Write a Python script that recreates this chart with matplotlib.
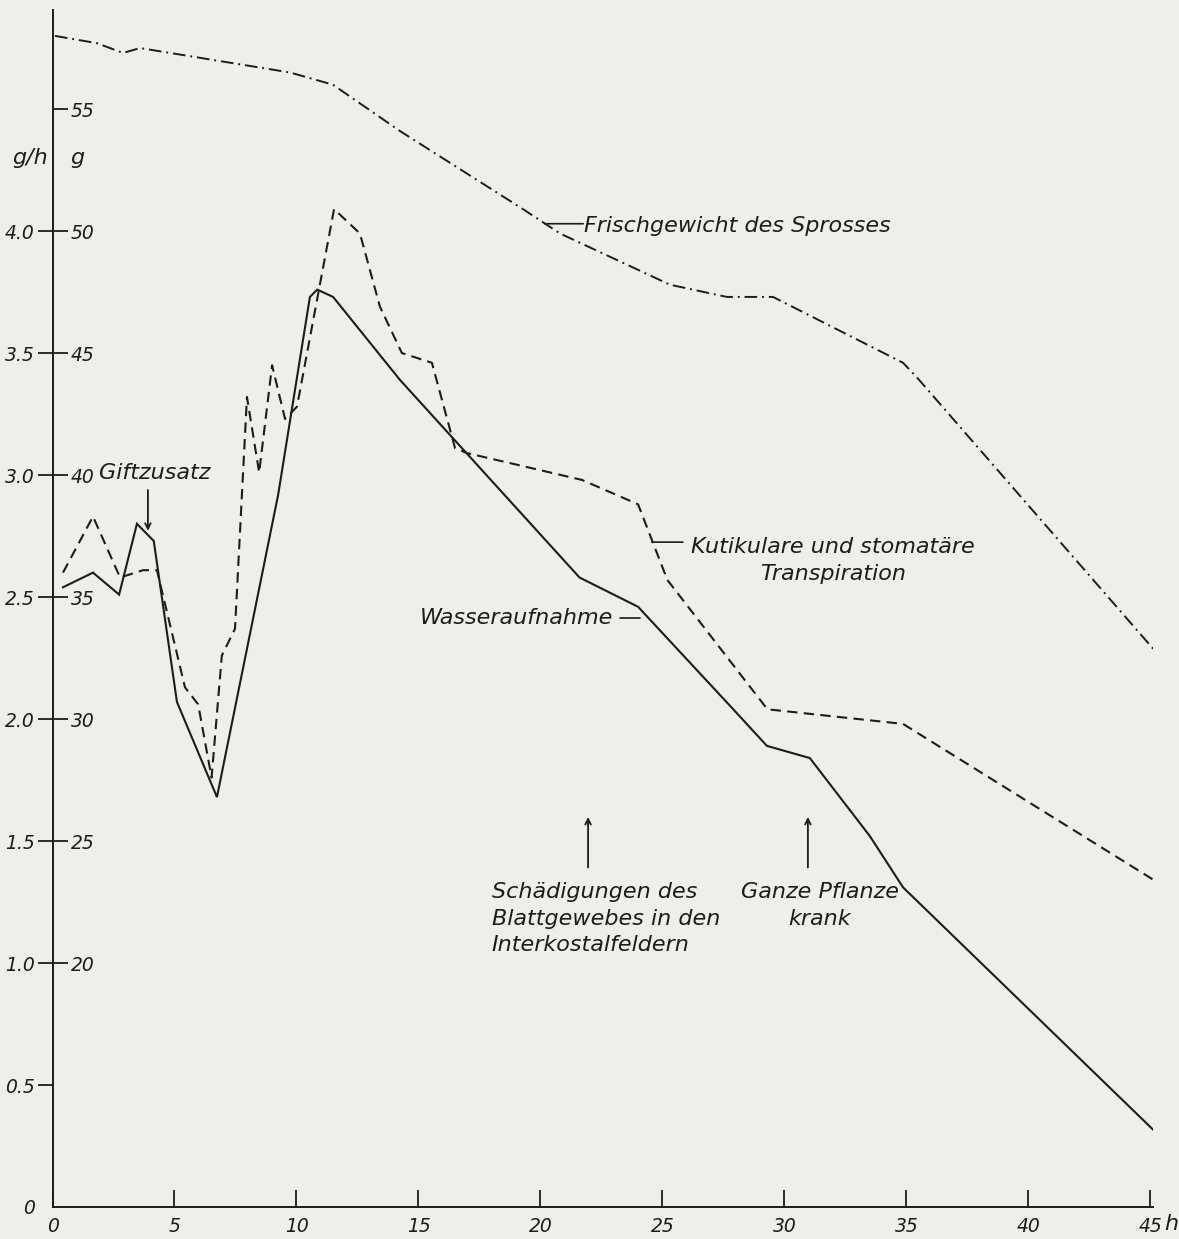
import numpy as np
import matplotlib.pyplot as plt

# Zeit in Stunden und Werte in g/h bzw. g
wasser_t = [0.43, 1.66, 2.73, 3.46, 4.15, 5.1, 6.74, 9.25, 10.55, 10.85, 11.5,
            14.24, 21.6, 24.0, 27.9, 29.28, 31.04, 33.5, 34.86, 45.18]
wasser_gh = [2.54, 2.60, 2.51, 2.80, 2.73, 2.07, 1.68, 2.92, 3.73, 3.76, 3.73,
             3.39, 2.58, 2.46, 2.04, 1.89, 1.84, 1.52, 1.31, 0.31]

transp_t = [0.43, 1.66, 2.77, 3.71, 4.28, 5.43, 5.97, 6.52, 6.94, 7.48, 7.97,
            8.47, 9.0, 9.53, 10.02, 11.54, 12.6, 13.42, 14.32, 15.55, 16.5,
            16.99, 21.7, 24.0, 25.2, 29.3, 34.86, 45.3]
transp_gh = [2.60, 2.83, 2.58, 2.61, 2.61, 2.13, 2.06, 1.76, 2.26, 2.37, 3.32,
             3.01, 3.45, 3.23, 3.28, 4.09, 3.99, 3.69, 3.50, 3.46, 3.11,
             3.09, 2.98, 2.88, 2.57, 2.04, 1.98, 1.33]

frisch_t = [0.10, 1.82, 2.89, 3.59, 9.73, 11.49, 14.24, 19.28, 20.80, 25.31,
            27.64, 29.53, 34.86, 35.43, 45.18]
frisch_g = [58.0, 57.7, 57.3, 57.5, 56.5, 56.0, 54.1, 50.9, 49.9, 47.8,
            47.3, 47.3, 44.6, 44.0, 32.8]

x_ticks = [0, 5, 10, 15, 20, 25, 30, 35, 40, 45]
gh_ticks = [0, 0.5, 1.0, 1.5, 2.0, 2.5, 3.0, 3.5, 4.0]
gh_labels = ['0', '0.5', '1.0', '1.5', '2.0', '2.5', '3.0', '3.5', '4.0']
g_ticks = [20, 25, 30, 35, 40, 45, 50, 55]

ink = '#1c1c1c'
paper = '#eeeeeb'
plt.rcParams['font.family'] = ['DejaVu Sans']
plt.rcParams['font.style'] = 'italic'

fig = plt.figure(figsize=(11.79, 12.39), dpi=100, facecolor=paper)
ax = fig.add_axes([52.5 / 1179, 32 / 1239, 1100.4 / 1179, 1197 / 1239])
ax.set_facecolor(paper)
ytop = 4.906
ax.set_xlim(0, 45.1)
ax.set_ylim(0, ytop)

# zweite Skala (g) auf derselben Achse
ax2 = ax.twinx()
ax2.set_ylim(10, 10 + 10 * ytop)
for s in ['top', 'left', 'bottom']:
    ax2.spines[s].set_visible(False)
ax2.spines['right'].set_position(('axes', 0))
ax2.spines['right'].set_visible(False)
ax2.set_yticks(g_ticks)
ax2.set_yticklabels([str(v) for v in g_ticks])
ax2.tick_params(axis='y', direction='out', length=11, width=1.3, color=ink,
                labelsize=13.5, labelcolor=ink, pad=2)

for s in ['top', 'right']:
    ax.spines[s].set_visible(False)
for s in ['left', 'bottom']:
    ax.spines[s].set_linewidth(1.4)
    ax.spines[s].set_color(ink)

ax.set_xticks(x_ticks)
ax.set_xticklabels([str(v) for v in x_ticks])
ax.tick_params(axis='x', direction='in', length=12, width=1.3, color=ink,
               labelsize=13.5, labelcolor=ink, pad=7)
ax.set_yticks(gh_ticks)
ax.set_yticklabels(gh_labels)
ax.tick_params(axis='y', direction='out', length=11, width=1.3, color=ink,
               labelsize=13.5, labelcolor=ink, pad=2)
ax.yaxis.get_major_ticks()[0].tick1line.set_visible(False)

ax.plot(wasser_t, wasser_gh, color=ink, lw=1.5, solid_joinstyle='miter')
ax.plot(transp_t, transp_gh, color=ink, lw=1.5, dashes=(5, 3))
ax2.plot(frisch_t, frisch_g, color=ink, lw=1.4, dashes=(6.5, 2.5, 1, 2.5))

txt = dict(color=ink, fontsize=16)

ax.text(-0.92, 4.3, 'g/h', ha='center', va='center', **txt)
ax.text(1.0, 4.3, 'g', ha='center', va='center', **txt)
ax.text(45.55, -0.07, 'h', ha='left', va='center', **txt)

ax.text(4.2, 3.01, 'Giftzusatz', ha='center', va='center', **txt)
ax.annotate('', xy=(3.91, 2.76), xytext=(3.91, 2.95),
            arrowprops=dict(arrowstyle='->', color=ink, lw=1.3))

ax2.annotate('', xy=(20.18, 50.3), xytext=(21.75, 50.3),
             arrowprops=dict(arrowstyle='-', color=ink, lw=1.2,
                             shrinkA=0, shrinkB=0))
ax2.text(21.8, 50.2, 'Frischgewicht des Sprosses', ha='left', va='center', **txt)

ax.annotate('', xy=(24.57, 2.725), xytext=(25.84, 2.725),
            arrowprops=dict(arrowstyle='-', color=ink, lw=1.2,
                            shrinkA=0, shrinkB=0))
ax.text(32.0, 2.65, 'Kutikulare und stomatäre\nTranspiration', ha='center',
        va='center', linespacing=1.45, **txt)

ax.annotate('', xy=(24.08, 2.414), xytext=(23.26, 2.414),
            arrowprops=dict(arrowstyle='-', color=ink, lw=1.2,
                            shrinkA=0, shrinkB=0))
ax.text(22.97, 2.414, 'Wasseraufnahme', ha='right', va='center', **txt)

ax.annotate('', xy=(21.95, 1.61), xytext=(21.95, 1.38),
            arrowprops=dict(arrowstyle='->', color=ink, lw=1.3))
ax.text(18.0, 1.33, 'Schädigungen des\nBlattgewebes in den\nInterkostalfeldern',
        ha='left', va='top', linespacing=1.4, **txt)

ax.annotate('', xy=(30.96, 1.61), xytext=(30.96, 1.38),
            arrowprops=dict(arrowstyle='->', color=ink, lw=1.3))
ax.text(31.45, 1.33, 'Ganze Pflanze\nkrank', ha='center', va='top',
        linespacing=1.4, **txt)

fig.savefig('out.png', dpi=100, facecolor=paper)
